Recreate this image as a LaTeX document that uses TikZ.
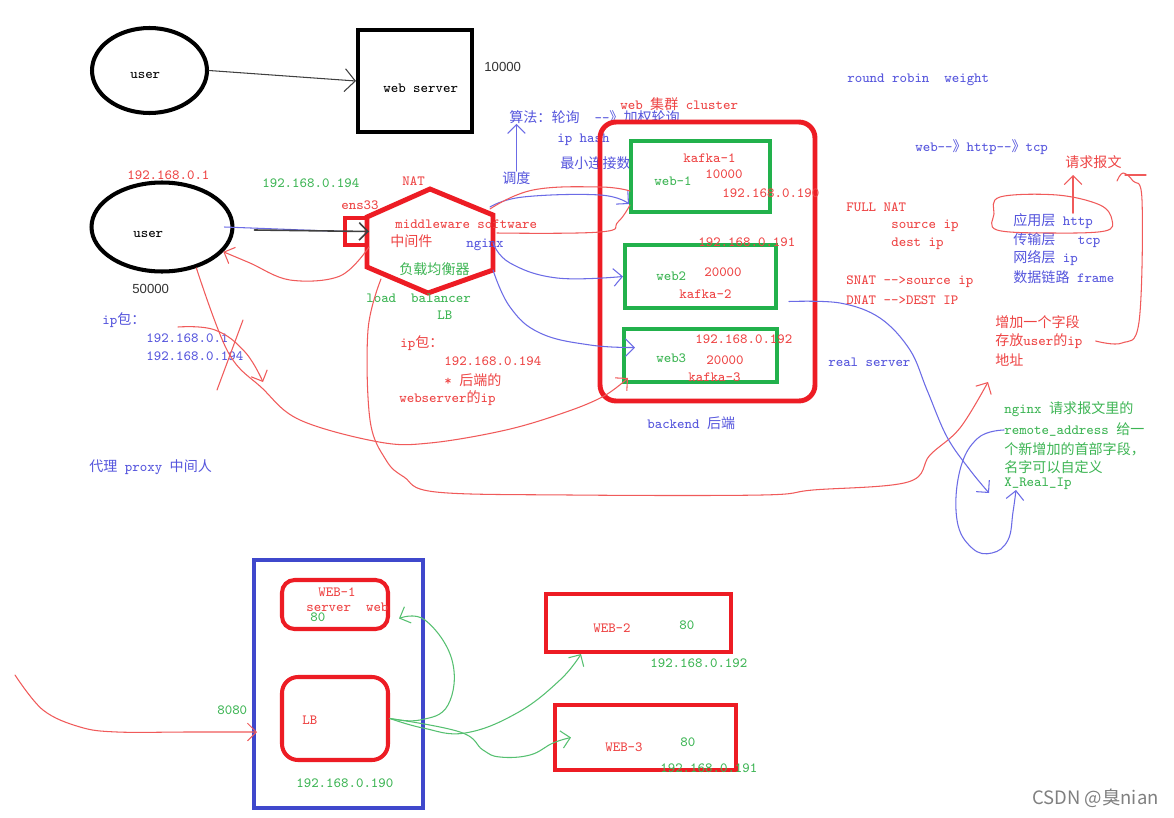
\documentclass[tikz,border=0pt]{standalone}
\usepackage{fontspec}
\usepackage{tikz}
\usetikzlibrary{arrows.meta, shapes.geometric}
\newfontfamily\cjk{Noto Sans CJK SC}
\newfontfamily\arialf{Liberation Sans}
\newcommand{\zh}[1]{{\cjk #1}}
\definecolor{pRed}{HTML}{ED1C24}
\definecolor{pGreen}{HTML}{22B14C}
\definecolor{pBlue}{HTML}{3F48CC}
\definecolor{tRed}{HTML}{EE4444}
\definecolor{tBlue}{HTML}{5555DD}
\definecolor{tGreen}{HTML}{3DB554}
\definecolor{lRed}{HTML}{F05A5A}
\definecolor{lBlue}{HTML}{6B6BE6}
\definecolor{lGreen}{HTML}{55C070}
\tikzset{
  lbl/.style={inner sep=0pt, anchor=west, font=\ttfamily\fontsize{8}{10}\selectfont},
  redlbl/.style={lbl, text=tRed},
  bluelbl/.style={lbl, text=tBlue},
  greenlbl/.style={lbl, text=tGreen},
  blklbl/.style={lbl, text=black},
  sanslbl/.style={inner sep=0pt, anchor=west, font=\arialf\fontsize{7.5}{9}\selectfont, text=black!80},
  userbubble/.style={ellipse, draw=black, line width=2.3pt, inner sep=0pt,
    font=\ttfamily\fontsize{8}{10}\selectfont},
  serverbox/.style={draw=black, line width=2.3pt, inner sep=0pt},
  portbox/.style={draw=pRed, line width=2.3pt, inner sep=0pt},
  hexline/.style={draw=pRed, line width=2.8pt, line join=miter},
  clusterbox/.style={draw=pRed, line width=2.8pt, rounded corners=0.32cm, inner sep=0pt},
  webbox/.style={draw=pGreen, line width=2.3pt, inner sep=0pt},
  hostbox/.style={draw=pBlue, line width=2.3pt, inner sep=0pt},
  appbox/.style={draw=pRed, line width=2.3pt, rounded corners=0.25cm, inner sep=0pt},
  webbox2/.style={draw=pRed, line width=2.3pt, inner sep=0pt},
  freehand/.style={line width=0.6pt, line cap=round, line join=round},
  redpen/.style={freehand, draw=lRed},
  bluepen/.style={freehand, draw=lBlue},
  greenpen/.style={freehand, draw=lGreen},
  graypen/.style={freehand, draw=black!75},
  penarrow/.style={-{Straight Barb[length=5pt, width=10pt]}},
  wmark/.style={inner sep=0pt, anchor=west, font=\cjk\fontsize{10.5}{12}\selectfont, text=black!50},
}

\begin{document}
\begin{tikzpicture}[x=0.02cm, y=-0.02cm]
  \fill[white] (0,0) rectangle (1174,818);

  % top: plain user -> web server
  \node[userbubble, minimum width=2.3cm, minimum height=1.7cm] (user1) at (149.5,70.5) {};
  \node[blklbl] (user1txt) at (130,75) {user};
  \node[serverbox, minimum width=2.28cm, minimum height=2.04cm] (websrv) at (415,81) {};
  \node[blklbl] (websrvtxt) at (383,88) {web server};
  \node[sanslbl] (port1) at (484,67) {10000};
  \draw[graypen, -{Straight Barb[length=6pt, width=13pt]}] (user1.east) -- (websrv.west);

  % middle: user -> load balancer
  \node[userbubble, minimum width=2.82cm, minimum height=1.78cm] (user2) at (162,227) {};
  \node[blklbl] (user2txt) at (133,234) {user};
  \node[redlbl] (uip) at (127,175) {192.168.0.1};
  \node[sanslbl] (uport) at (132,289) {50000};
  \node[greenlbl] (vip) at (262,183) {192.168.0.194};
  \node[redlbl] (ensl) at (341,205) {ens33};
  \node[portbox, minimum width=0.44cm, minimum height=0.54cm] (ens) at (356,231.5) {};

  \coordinate (hexN) at (430,189);
  \coordinate (hexNE) at (493,215);
  \coordinate (hexSE) at (493,270);
  \coordinate (hexS) at (428,293);
  \coordinate (hexSW) at (367,267);
  \coordinate (hexNW) at (367,217);
  \coordinate (hexE) at (493,243);
  \coordinate (hexLow) at (381,279);
  \draw[hexline] (hexN) -- (hexNE) -- (hexSE) -- (hexS) -- (hexSW) -- (hexNW) -- cycle;

  \node[redlbl] (nat) at (402,181) {NAT};
  \node[redlbl] (mw) at (395,224) {middleware software};
  \node[redlbl] (mwzh) at (390,241) {\zh{中间件}};
  \node[bluelbl] (ngx) at (466,245) {nginx};
  \node[greenlbl] (lbzh) at (399,269) {\zh{负载均衡器}};
  \node[greenlbl] (lben) at (366,298) {load~~balancer};
  \node[greenlbl] (lbabbr) at (437,315) {LB};
  \node[redlbl] (pk1) at (400,343) {ip\zh{包：}};
  \node[redlbl] (pk2) at (444,361) {192.168.0.194};
  \node[redlbl] (pk3) at (444,380) {* \zh{后端的}};
  \node[redlbl] (pk4) at (399,398) {webserver\zh{的}ip};

  \node[bluelbl] (bp1) at (102,320) {ip\zh{包：}};
  \node[bluelbl] (bp2) at (146,338) {192.168.0.1};
  \node[bluelbl] (bp3) at (146,356) {192.168.0.194};
  \node[bluelbl] (proxy) at (89,467) {\zh{代理} proxy \zh{中间人}};

  \draw[bluepen] ([xshift=-0.2cm]user2.east) -- (ens.west);
  \draw[graypen, line width=0.9pt, penarrow] ([xshift=0.4cm, yshift=-0.06cm]user2.east) -- (ens.east);

  % scheduling
  \node[bluelbl] (algo) at (509,117) {\zh{算法：轮询}~~--\zh{》加权轮询}};
  \node[bluelbl] (sched) at (502,178) {\zh{调度}};
  \node[bluelbl] (iphash) at (557,140) {ip hash};
  \node[bluelbl] (leastc) at (560,163) {\zh{最小连接数}};
  \node[redlbl] (clu) at (620,104) {web \zh{集群} cluster};
  \node[bluelbl] (rr) at (847,80) {round robin~~weight};
  \draw[bluepen, penarrow] (sched.north) -- (sched.north |- algo.south);

  % backend cluster
  \node[clusterbox, minimum width=4.3cm, minimum height=5.58cm] (cluster) at (707.5,261.5) {};
  \node[webbox, minimum width=2.78cm, minimum height=1.42cm] (w1) at (700.5,176.5) {};
  \node[webbox, minimum width=3.02cm, minimum height=1.26cm] (w2) at (700.5,276.5) {};
  \node[webbox, minimum width=3.06cm, minimum height=1.06cm] (w3) at (700.5,355.5) {};
  \node[redlbl] (k1) at (683,158) {kafka-1};
  \node[redlbl] (p1) at (705,174) {10000};
  \node[greenlbl] (n1) at (654,181) {web-1};
  \node[redlbl] (ip1) at (722,193) {192.168.0.190};
  \node[redlbl] (ip2) at (698,242) {192.168.0.191};
  \node[greenlbl] (n2) at (656,276) {web2};
  \node[redlbl] (p2) at (704,272) {20000};
  \node[redlbl] (k2) at (679,294) {kafka-2};
  \node[redlbl] (ip3) at (695,339) {192.168.0.192};
  \node[greenlbl] (n3) at (656,358) {web3};
  \node[redlbl] (p3) at (706,360) {20000};
  \node[redlbl] (k3) at (688,377) {kafka-3};
  \node[bluelbl] (backend) at (647,423) {backend \zh{后端}};

  % right notes
  \node[bluelbl] (proto) at (915,147) {web--\zh{》}http--\zh{》}tcp};
  \node[redlbl] (fnat) at (846,207) {FULL NAT};
  \node[redlbl] (sip) at (891,226) {source ip};
  \node[redlbl] (dip) at (891,244) {dest ip};
  \node[redlbl] (snat) at (846,282) {SNAT -->source ip};
  \node[redlbl] (dnat) at (846,300) {DNAT -->DEST IP};
  \node[bluelbl] (rs) at (828,362) {real server};
  \node[redlbl] (req) at (1065,162) {\zh{请求报文}};
  \node[bluelbl] (lay1) at (1013,221) {\zh{应用层} http};
  \node[bluelbl] (lay2) at (1013,240) {\zh{传输层}~~~tcp};
  \node[bluelbl] (lay3) at (1013,258) {\zh{网络层} ip};
  \node[bluelbl] (lay4) at (1013,277) {\zh{数据链路} frame};
  \node[redlbl] (add1) at (995,322) {\zh{增加一个字段}};
  \node[redlbl] (add2) at (995,341) {\zh{存放}user\zh{的}ip};
  \node[redlbl] (add3) at (995,360) {\zh{地址}};
  \node[greenlbl] (nt1) at (1004,409) {nginx \zh{请求报文里的}};
  \node[greenlbl] (nt2) at (1004,430) {remote\_address \zh{给一}};
  \node[greenlbl] (nt3) at (1004,449) {\zh{个新增加的首部字段，}};
  \node[greenlbl] (nt4) at (1004,467) {\zh{名字可以自定义}};
  \node[greenlbl] (nt5) at (1004,484) {X\_Real\_Ip};

  % freehand strokes, top part
  \draw[bluepen, penarrow] plot[smooth, tension=0.7] coordinates {(490,207) (523,197) (600,195) ([yshift=0.2cm]w1.south west)};
  \draw[bluepen, penarrow] plot[smooth, tension=0.7] coordinates {(hexE) (510,263) (557,278) (w2.west)};
  \draw[bluepen, penarrow] plot[smooth, tension=0.7] coordinates {(hexSE) (510,307) (540,333) (590,345) ([xshift=0.26cm, yshift=0.16cm]w3.west)};
  \draw[redpen] plot[smooth, tension=0.7] coordinates {(490,209) (533,190) (600,187) (630,191)};
  \draw[redpen] plot[smooth, tension=0.7] coordinates {(497,233) (600,232) (618,222) (630,205)};
  \draw[redpen, penarrow] plot[smooth, tension=0.6] coordinates {(ens.south east) (340,276) (290,280) (250,263) (user2.-22)};
  \draw[redpen, penarrow] plot[smooth, tension=0.6] coordinates {(user2.-50) (228,352) (262,388) (300,420) (379,442) (430,443) (506,430) (566,412) (604,396) (628,378)};
  \draw[redpen, penarrow] plot[smooth, tension=0.7] coordinates {(178,327) (215,330) (245,352) (263,382)};
  \draw[redpen] (243,320) -- (217,390);
  \draw[redpen, penarrow] plot[smooth, tension=0.6] coordinates {(hexLow) (368,330) (370,420) (386,460) (404,477) (436,492) (570,495) (762,495) (813,490) (908,482) (930,455) (960,428) (988,382)};
  \draw[bluepen, penarrow] plot[smooth, tension=0.6] coordinates {([xshift=0.22cm, yshift=-0.5cm]w2.east) (840,303) (880,318) (910,350) (927,390) (947,437) (970,470) ([xshift=-0.3cm, yshift=-0.18cm]nt5.west)};
  \draw[bluepen, penarrow] plot[smooth, tension=0.7] coordinates {(nt2.west) (978,438) (960,470) (957,520) (972,548) (992,553) (1008,540) (1013,512) ([xshift=0.24cm, yshift=-0.12cm]nt5.west)};
  \coordinate (reqtip) at (1073,175);
  \draw[redpen, penarrow] (reqtip |- lay1.north) -- (reqtip);
  \draw[redpen] plot[smooth cycle, tension=0.6] coordinates {(1000,197) (1057,195) (1100,205) (1112,220) (1105,231) (1053,233) (997,230) (994,214)};
  \draw[redpen] plot[smooth, tension=0.6] coordinates {([xshift=0.26cm]add2.east) (1122,343) (1139,322) (1142,200) (1133,181) (1123,173) (1117,181)};
  \draw[redpen] (1125,175) -- (1146,175);

  % bottom: one host, LB and web servers
  \node[hostbox, minimum width=3.38cm, minimum height=4.96cm] (host) at (338.5,684) {};
  \node[appbox, minimum width=2.12cm, minimum height=0.98cm] (bweb1) at (335,604.5) {};
  \node[appbox, minimum width=2.12cm, minimum height=1.66cm, rounded corners=0.32cm] (blb) at (335,718.5) {};
  \node[webbox2, minimum width=3.7cm, minimum height=1.16cm] (bweb2) at (638.5,623) {};
  \node[webbox2, minimum width=3.62cm, minimum height=1.3cm] (bweb3) at (645.5,737.5) {};
  \node[redlbl] (bw1) at (318,592) {WEB-1};
  \node[redlbl] (bw1b) at (306,607) {server~~web};
  \node[greenlbl] (bw1p) at (310,617) {80};
  \node[redlbl] (blbt) at (302,720) {LB};
  \node[greenlbl] (hostip) at (296,783) {192.168.0.190};
  \node[greenlbl] (hostport) at (217,710) {8080};
  \node[redlbl] (bw2) at (593,628) {WEB-2};
  \node[greenlbl] (bw2p) at (679,625) {80};
  \node[greenlbl] (bw2ip) at (650,663) {192.168.0.192};
  \node[redlbl] (bw3) at (605,747) {WEB-3};
  \node[greenlbl] (bw3p) at (680,742) {80};
  \node[greenlbl] (bw3ip) at (660,768) {192.168.0.191};

  \coordinate (inport) at (257,732);
  \draw[redpen, penarrow] plot[smooth, tension=0.6] coordinates {(15,675) (43,710) (80,727) (117,732) (190,732) (inport)};
  \draw[greenpen, penarrow] plot[smooth, tension=0.7] coordinates {(blb.east) (420,720) (448,705) (452,660) (425,620) ([xshift=0.18cm, yshift=-0.28cm]bweb1.east)};
  \draw[greenpen, penarrow] plot[smooth, tension=0.7] coordinates {(blb.east) (423,728) (465,733) (517,713) (560,680) ([xshift=0.74cm]bweb2.south west)};
  \draw[greenpen, penarrow] plot[smooth, tension=0.7] coordinates {(blb.east) (460,732) (483,750) (500,757) (530,755) (553,743) ([xshift=0.36cm]bweb3.west)};

  \node[wmark] (csdn) at (1032,798) {CSDN @臭nian};
\end{tikzpicture}
\end{document}
